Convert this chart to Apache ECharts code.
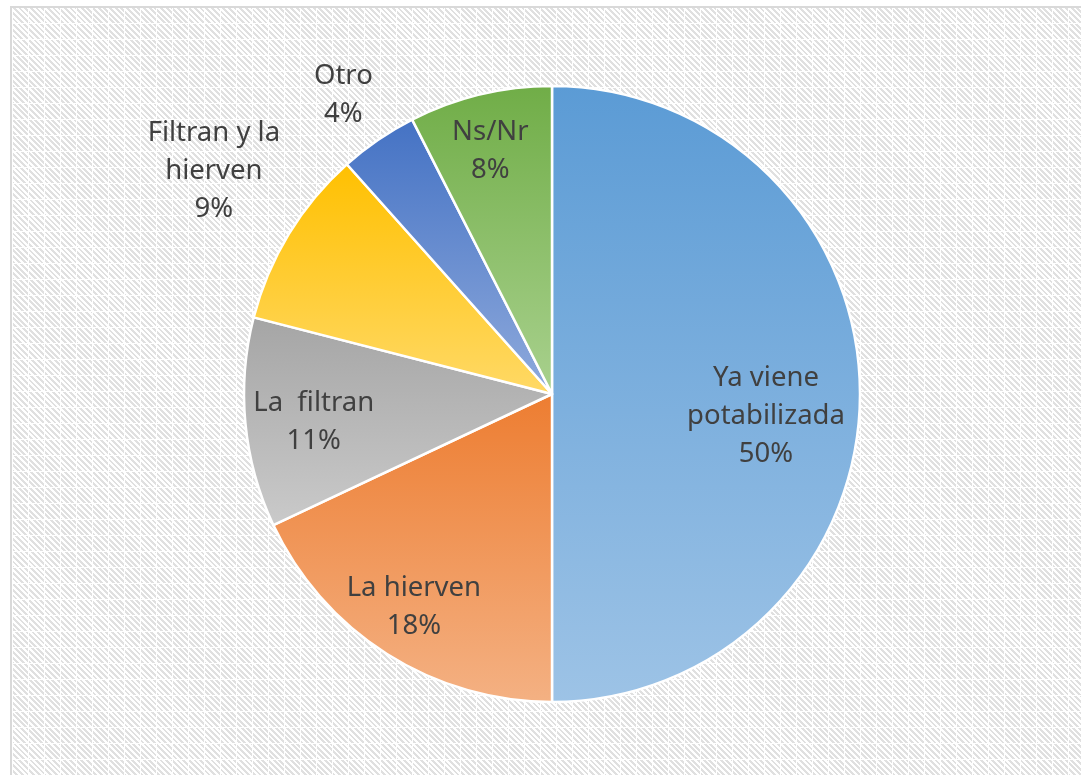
<!DOCTYPE html>
<html>
<head>
<meta charset="utf-8">
<script src="https://cdn.jsdelivr.net/npm/echarts@6/dist/echarts.min.js"></script>
<style>
html,body{margin:0;padding:0;background:#fff;width:1081px;height:775px;overflow:hidden;}
#frame{position:absolute;left:10px;top:6px;width:1100px;height:800px;border:2px solid #d9d9d9;
background-color:#fff;
background-image:
 linear-gradient(90deg,#fff 1px,transparent 1px),
 linear-gradient(0deg,#fff 1px,transparent 1px),
 repeating-linear-gradient(45deg,#fff 0 2px,#e0e0e0 2px 4px);
background-size:16px 16px,16px 16px,auto;}
#chart{position:absolute;left:0;top:0;width:1081px;height:775px;}
</style>
</head>
<body>
<div id="frame"></div>
<div id="chart"></div>
<script>
// Data
const categories = ['Ya viene\npotabilizada', 'La hierven', 'La  filtran', 'Filtran y la\nhierven', 'Otro', 'Ns/Nr'];
const values = [50, 18, 11, 9.4, 4.1, 7.5];

// Styles (kept separate from data)
const gradients = [
  ['#5B9BD5', '#9DC3E6'],
  ['#ED7D31', '#F4B183'],
  ['#A5A5A5', '#CACACA'],
  ['#FFC000', '#FFD966'],
  ['#4472C4', '#8FAADC'],
  ['#70AD47', '#A9D18E']
];
const labelOffsets = [[57, 22], [-54, 81], [-82, 13], [-204, -141], [-120, -169], [-25, -90]];

const chart = echarts.init(document.getElementById('chart'), null, {renderer: 'canvas'});
chart.setOption({
  backgroundColor: 'transparent',
  animation: false,
  series: [{
    type: 'pie',
    center: [552, 394],
    radius: [0, 308],
    startAngle: 90,
    clockwise: true,
    avoidLabelOverlap: false,
    percentPrecision: 0,
    itemStyle: {borderColor: '#ffffff', borderWidth: 2.5},
    labelLine: {show: false},
    emphasis: {disabled: true},
    label: {
      show: true,
      position: 'inside',
      formatter: '{b}\n{d}%',
      color: '#404040',
      fontFamily: 'Noto Sans',
      fontSize: 27.5,
      lineHeight: 38,
      align: 'center'
    },
    data: categories.map((c, i) => ({
      name: c,
      value: values[i],
      itemStyle: {
        color: new echarts.graphic.LinearGradient(0, 0, 0, 1, [
          {offset: 0, color: gradients[i][0]},
          {offset: 1, color: gradients[i][1]}
        ])
      },
      label: {offset: labelOffsets[i]}
    }))
  }]
});
</script>
</body>
</html>
